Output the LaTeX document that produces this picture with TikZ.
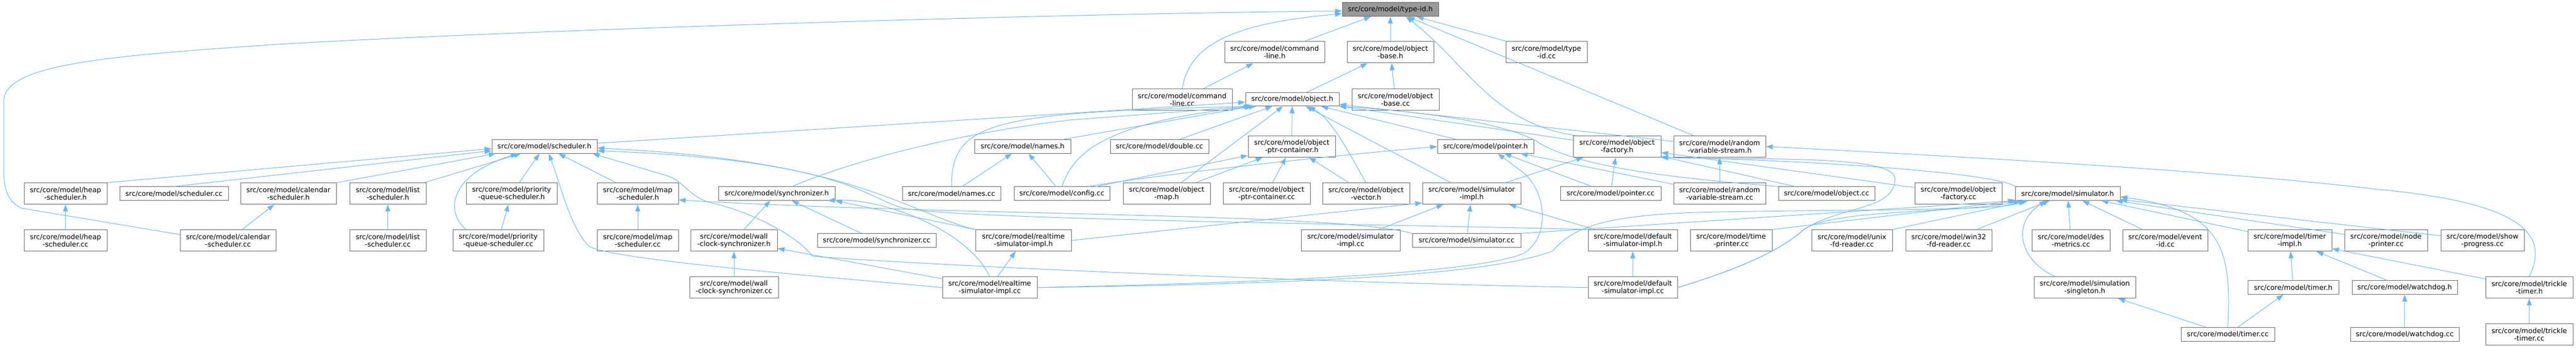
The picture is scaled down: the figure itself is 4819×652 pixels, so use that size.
\documentclass[tikz,border=0pt]{standalone}
\usepackage{fontspec}
\usetikzlibrary{arrows.meta}
\newfontfamily\nodefont{DejaVu Sans}
\definecolor{edgeblue}{HTML}{63B8FF}
\definecolor{boxgray}{HTML}{666666}
\definecolor{rootfill}{HTML}{999999}
\tikzset{
  gbox/.style={draw=boxgray, fill=white, line width=1pt, inner sep=0pt, align=center,
    font={\nodefont\fontsize{13}{14}\selectfont}, text=black},
  edge/.style={draw=edgeblue, line width=1pt, -{Triangle[length=13pt,width=9pt]}}
}
\newcommand{\gnode}[6]{\node[gbox, minimum width=#4pt, minimum height=#5pt] (#1) at (#2,#3) {#6};}
\begin{document}
\begin{tikzpicture}[x=1pt,y=-1pt]
\fill[white] (0,0) rectangle (4819,652);
\useasboundingbox (0,0) rectangle (4819,652);
% row 0
\node[gbox, fill=rootfill, minimum width=180pt, minimum height=26pt] (typeid) at (2601,17.7) {src/core/model/type-id.h};
% row 1
\gnode{cmdh}{2384.5}{98}{187}{40}{src/core/model/command\\-line.h}
\gnode{objbaseh}{2601}{98}{162}{40}{src/core/model/object\\-base.h}
\gnode{typeidcc}{2893}{98}{152}{40}{src/core/model/type\\-id.cc}
% row 2
\gnode{cmdcc}{2211.5}{186.5}{187}{40}{src/core/model/command\\-line.cc}
\gnode{objh}{2417.5}{186}{175}{25.5}{src/core/model/object.h}
\gnode{objbasecc}{2610.5}{186.5}{163}{40}{src/core/model/object\\-base.cc}
% row 3
\gnode{schedh}{1018.5}{274.5}{197}{25.5}{src/core/model/scheduler.h}
\gnode{namesh}{1913}{274.5}{180}{25.5}{src/core/model/names.h}
\gnode{doublecc}{2169}{274.5}{184}{25.5}{src/core/model/double.cc}
\gnode{optrh}{2416.5}{274.5}{163}{40}{src/core/model/object\\-ptr-container.h}
\gnode{pointerh}{2779}{274.5}{180}{25.5}{src/core/model/pointer.h}
\gnode{objfach}{3025}{274.5}{164}{40}{src/core/model/object\\-factory.h}
\gnode{rvsh}{3217}{274.5}{172}{40}{src/core/model/random\\-variable-stream.h}
% row 4
\gnode{heaph}{122.5}{362.7}{155}{40}{src/core/model/heap\\-scheduler.h}
\gnode{schedcc}{325.5}{362.7}{203}{25.5}{src/core/model/scheduler.cc}
\gnode{calh}{539.5}{362.7}{179}{40}{src/core/model/calendar\\-scheduler.h}
\gnode{listh}{725.5}{362.7}{143}{40}{src/core/model/list\\-scheduler.h}
\gnode{pqh}{957}{362.7}{170}{40}{src/core/model/priority\\-queue-scheduler.h}
\gnode{maph}{1193}{362.7}{152}{40}{src/core/model/map\\-scheduler.h}
\gnode{synch}{1453}{362.7}{218}{25.5}{src/core/model/synchronizer.h}
\gnode{namescc}{1780}{362.7}{184}{25.5}{src/core/model/names.cc}
\gnode{configcc}{1986.5}{362.7}{179}{25.5}{src/core/model/config.cc}
\gnode{objmaph}{2182.5}{362.7}{163}{40}{src/core/model/object\\-map.h}
\gnode{optrcc}{2369.5}{362.7}{163}{40}{src/core/model/object\\-ptr-container.cc}
\gnode{objvech}{2555.5}{362.7}{163}{40}{src/core/model/object\\-vector.h}
\gnode{simimplh}{2753}{362.7}{184}{40}{src/core/model/simulator\\-impl.h}
\gnode{pointercc}{3013}{362.7}{188}{25.5}{src/core/model/pointer.cc}
\gnode{rvscc}{3217}{362.7}{172}{40}{src/core/model/random\\-variable-stream.cc}
\gnode{objcc}{3417}{362.7}{180}{25.5}{src/core/model/object.cc}
\gnode{objfaccc}{3663.5}{362.7}{163}{40}{src/core/model/object\\-factory.cc}
\gnode{simh}{3868}{362.7}{196}{25.5}{src/core/model/simulator.h}
% row 5
\gnode{heapcc}{122.5}{450.5}{155}{40}{src/core/model/heap\\-scheduler.cc}
\gnode{calcc}{426.5}{450.5}{179}{40}{src/core/model/calendar\\-scheduler.cc}
\gnode{listcc}{725.5}{450.5}{143}{40}{src/core/model/list\\-scheduler.cc}
\gnode{pqcc}{932}{450.5}{170}{40}{src/core/model/priority\\-queue-scheduler.cc}
\gnode{mapcc}{1193}{450.5}{152}{40}{src/core/model/map\\-scheduler.cc}
\gnode{wcsh}{1373}{450.5}{162}{40}{src/core/model/wall\\-clock-synchronizer.h}
\gnode{synccc}{1640}{450.5}{222}{25.5}{src/core/model/synchronizer.cc}
\gnode{rth}{1914.5}{450.5}{179}{40}{src/core/model/realtime\\-simulator-impl.h}
\gnode{simimplcc}{2526.5}{450.5}{185}{40}{src/core/model/simulator\\-impl.cc}
\gnode{simcc}{2743.5}{450.5}{203}{25.5}{src/core/model/simulator.cc}
\gnode{defsimh}{3054.5}{450.5}{167}{40}{src/core/model/default\\-simulator-impl.h}
\gnode{tpcc}{3238.5}{450.5}{153}{40}{src/core/model/time\\-printer.cc}
\gnode{unixcc}{3464.5}{450.5}{151}{40}{src/core/model/unix\\-fd-reader.cc}
\gnode{win32cc}{3645.5}{450.5}{161}{40}{src/core/model/win32\\-fd-reader.cc}
\gnode{descc}{3874}{450.5}{146}{40}{src/core/model/des\\-metrics.cc}
\gnode{eventcc}{4050.5}{450.5}{159}{40}{src/core/model/event\\-id.cc}
\gnode{timerimplh}{4283.5}{450.5}{157}{40}{src/core/model/timer\\-impl.h}
\gnode{nodepcc}{4463.5}{450.5}{155}{40}{src/core/model/node\\-printer.cc}
\gnode{showcc}{4644}{450.5}{156}{40}{src/core/model/show\\-progress.cc}
% row 6
\gnode{wcscc}{1373}{538.7}{166}{40}{src/core/model/wall\\-clock-synchronizer.cc}
\gnode{rtcc}{1851.5}{538.7}{177}{40}{src/core/model/realtime\\-simulator-impl.cc}
\gnode{defsimcc}{3054.5}{538.7}{167}{40}{src/core/model/default\\-simulator-impl.cc}
\gnode{simsingh}{3900}{538.7}{190}{40}{src/core/model/simulation\\-singleton.h}
\gnode{timerh}{4290}{538.7}{170}{25.5}{src/core/model/timer.h}
\gnode{watchh}{4498.5}{538.7}{197}{25.5}{src/core/model/watchdog.h}
\gnode{tth}{4731.5}{538.7}{163}{40}{src/core/model/trickle\\-timer.h}
% row 7
\gnode{timercc}{4167.5}{626.5}{175}{25.5}{src/core/model/timer.cc}
\gnode{watchcc}{4498.5}{626.5}{203}{25.5}{src/core/model/watchdog.cc}
\gnode{ttcc}{4731.5}{626.5}{163}{40}{src/core/model/trickle\\-timer.cc}

% ---- edges to type-id.h
\draw[edge] (cmdh) -- (typeid);
\draw[edge] (objbaseh) -- (typeid);
\draw[edge] (typeidcc) -- (typeid);
\draw[edge] (rvsh) -- (typeid);
\draw[edge] (cmdcc.north) .. controls (2225,90) and (2290,45) .. ([yshift=-8pt]typeid.west);
\draw[edge] ([xshift=5pt]objfach.north west) .. controls (2790,230) and (2745,120) .. ([xshift=29pt]typeid.south);
\draw[edge] ([yshift=11pt]calcc.west) -- (40,390) .. controls (15,378) and (7,355) .. (7,320) -- (7,190)
  .. controls (7,120) and (200,105) .. (520,83) .. controls (1000,55) and (2000,25) .. ([yshift=-3pt]typeid.west);
\draw[edge] (cmdcc) -- (cmdh);
\draw[edge] (objh) -- (objbaseh);
\draw[edge] (objbasecc) -- (objbaseh);
% ---- edges to object.h
\draw[edge] (schedh) -- (objh);
\draw[edge] (namesh) -- (objh);
\draw[edge] (doublecc) -- (objh);
\draw[edge] (optrh) -- (objh);
\draw[edge] (pointerh) -- (objh);
\draw[edge] (objfach) -- (objh);
\draw[edge] (rvsh) -- (objh);
\draw[edge] (objmaph) -- (objh);
\draw[edge] (simimplh) -- (objh);
\draw[edge] (namescc.north) .. controls (1780,230) and (1850,210) .. ([xshift=15pt]objh.south west);
\draw[edge] (configcc.north) .. controls (2005,300) and (2040,230) .. ([xshift=20pt]objh.south west);
\draw[edge] (objvech.north) .. controls (2530,300) and (2495,225) .. ([xshift=30pt]objh.south);
\draw[edge] ([xshift=29pt]synch.north) .. controls (1560,315) and (1750,255) .. (2000,225) -- ([xshift=10pt]objh.south west);
\draw[edge] (objcc.north west) .. controls (3150,335) and (2950,315) .. (2875,265) .. controls (2800,222) and (2600,205) .. (objh.south east);
% ---- names, containers, pointer, factory
\draw[edge] (namescc) -- (namesh);
\draw[edge] (configcc) -- (namesh);
\draw[edge] (configcc) -- (optrh);
\draw[edge] ([xshift=50pt]configcc.north) .. controls (2130,333) and (2400,300) .. (pointerh.west);
\draw[edge] (objmaph) -- (optrh);
\draw[edge] (optrcc) -- (optrh);
\draw[edge] (objvech) -- (optrh);
\draw[edge] (pointercc) -- (pointerh);
\draw[edge] (pointercc) -- (objfach);
\draw[edge] (rvscc) -- (pointerh);
\draw[edge] (rvscc) -- (rvsh);
\draw[edge] (objcc) -- (objfach);
\draw[edge] (objfaccc) -- (objfach);
\draw[edge] (simimplh) -- (objfach);
\draw[edge] (simh.north west) .. controls (3740,325) and (3400,300) .. (objfach.south east);
% ---- scheduler.h
\draw[edge] (heaph.north east) -- ([yshift=-4pt]schedh.west);
\draw[edge] (schedcc.north) -- ([yshift=-8pt]schedh.west);
\draw[edge] (calh.north east) -- ([xshift=8pt]schedh.south west);
\draw[edge] (listh) -- (schedh);
\draw[edge] (pqh) -- (schedh);
\draw[edge] ([xshift=-60pt]pqcc.north) .. controls (835,400) and (835,330) .. ([xshift=-50pt]schedh.south);
\draw[edge] (maph) -- (schedh);
\draw[edge] (rtcc.west) .. controls (1500,515) and (1130,485) .. (1100,460) .. controls (1065,420) and (1050,350) .. ([xshift=8pt]schedh.south);
\draw[edge] (defsimcc.west) .. controls (2400,528) and (1700,495) .. (1520,480) .. controls (1490,440) and (1400,395) .. (1330,380) .. controls (1290,370) and (1280,340) .. (1250,330) -- ([xshift=90pt]schedh.south);
\draw[edge] (defsimh.north west) .. controls (2600,420) and (1800,412) .. (1690,390) .. controls (1620,372) and (1580,300) .. ([yshift=-8pt]schedh.east);
\draw[edge] (rth.north west) .. controls (1700,400) and (1600,300) .. ([yshift=-3pt]schedh.east);
\draw[edge] (heapcc) -- (heaph);
\draw[edge] (calcc) -- (calh);
\draw[edge] (listcc) -- (listh);
\draw[edge] (pqcc) -- (pqh);
\draw[edge] (mapcc) -- (maph);
\draw[edge] (simcc.north west) .. controls (2500,398) and (1800,405) .. ([yshift=-12pt]maph.east);
% ---- synchronizer / realtime
\draw[edge] (wcsh) -- (synch);
\draw[edge] (synccc) -- (synch);
\draw[edge] (rth.north west) -- (synch.south east);
\draw[edge] (rtcc.north) .. controls (1810,430) and (1650,370) .. ([xshift=-14pt]synch.south east);
\draw[edge] (wcscc) -- (wcsh);
\draw[edge] (rtcc) -- (wcsh);
\draw[edge] (rtcc) -- (rth);
\draw[edge] (rth.east) -- ([yshift=3pt]simimplh.south west);
\draw[edge] (simimplcc) -- (simimplh);
\draw[edge] (simcc) -- (simimplh);
\draw[edge] (defsimh) -- (simimplh);
\draw[edge] (defsimcc) -- (defsimh);
\draw[edge] (rtcc.east) .. controls (2450,528) and (2770,508) .. (2850,475) .. controls (2900,445) and (2895,360) .. (2848,322) -- ([xshift=23pt]pointerh.south);
\draw[edge] (rtcc.east) .. controls (2450,532) and (2790,515) .. (2905,470) .. controls (2940,430) and (2990,400) .. (3220,397) .. controls (3500,392) and (3740,395) .. ([xshift=20pt]simh.south west);
\draw[edge] (defsimcc.east) .. controls (3250,505) and (3330,470) .. (3372,432) .. controls (3420,390) and (3680,400) .. ([xshift=10pt]simh.south west);
\draw[edge] (defsimcc.east) .. controls (3250,505) and (3330,470) .. (3372,432) .. controls (3440,385) and (3545,395) .. (3545,335) .. controls (3545,290) and (3300,300) .. (objfach.south east);
% ---- simulator.h
\draw[edge] (simcc.north east) -- (simh.south west);
\draw[edge] (tpcc.north east) -- ([xshift=5pt]simh.south west);
\draw[edge] (unixcc.north east) -- ([xshift=25pt]simh.south west);
\draw[edge] (win32cc) -- (simh);
\draw[edge] (descc) -- (simh);
\draw[edge] (eventcc) -- (simh);
\draw[edge] (timerimplh) -- (simh);
\draw[edge] (nodepcc) -- (simh);
\draw[edge] (showcc) -- (simh);
\draw[edge] (timercc.north) .. controls (4175,470) and (4160,395) .. ([yshift=-6pt]simh.east);
\draw[edge] ([xshift=-55pt]simsingh.north) .. controls (3780,490) and (3760,420) .. ([xshift=-40pt]simh.south);
\draw[edge] (timercc) -- (simsingh);
\draw[edge] (timercc) -- (timerh);
% ---- timers
\draw[edge] (timerh) -- (timerimplh);
\draw[edge] (watchh) -- (timerimplh);
\draw[edge] (tth) -- (timerimplh);
\draw[edge] (watchcc) -- (watchh);
\draw[edge] (ttcc) -- (tth);
\draw[edge] (tth.north) .. controls (4770,440) and (4720,380) .. (4450,355) .. controls (4200,325) and (3800,300) .. (rvsh.east);
\end{tikzpicture}
\end{document}
